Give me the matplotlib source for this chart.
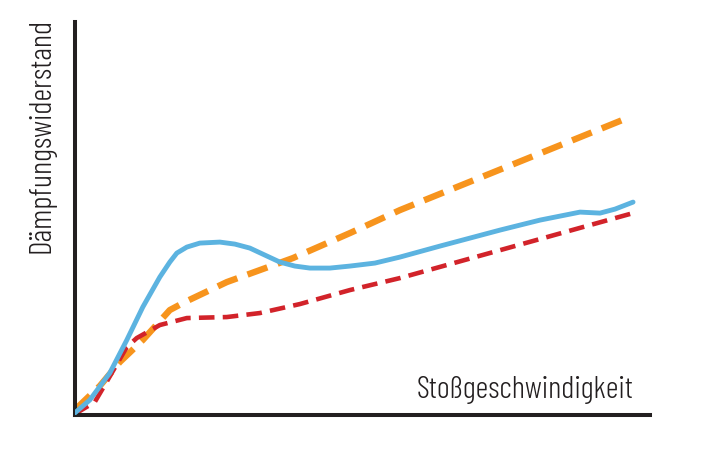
import matplotlib.pyplot as plt

# values (x: velocity, y: resistance, arbitrary units)
blue_x = [0, 15, 35, 52, 68, 85, 95, 102, 112, 125, 145, 160, 175, 190, 205, 220, 235, 255, 275, 300,
          325, 365, 425, 465, 505, 525, 540, 558]
blue_y = [2, 15, 42, 75, 108, 138, 153, 162, 168, 172, 173, 171, 167, 160, 153, 149, 147, 147, 149, 152,
          158, 169, 185, 195, 203, 202, 206, 213]

orange_x = [0, 25, 45, 68, 95, 110, 152, 218, 275, 325, 552]
orange_y = [5, 29, 53, 75, 105, 113, 133, 157, 182, 205, 297]

red_x = [0, 20, 30, 52, 62, 85, 112, 152, 185, 225, 275, 325, 558]
red_y = [1, 13, 30, 68, 77, 90, 97, 98, 102, 111, 125, 137, 202]

xlabel = "Stoßgeschwindigkeit"
ylabel = "Dämpfungswiderstand"

font = ["Barlow Condensed", "Roboto Condensed", "DejaVu Sans"]
ink = "#231f20"

fig = plt.figure(figsize=(7.12, 4.51), dpi=100)
ax = fig.add_axes([0.105, 0.0798, 0.808, 0.871])

ax.plot(blue_x, blue_y, color="#5cb3e0", lw=3.5, solid_capstyle="round", zorder=3)
ax.plot(orange_x, orange_y, color="#f7941d", lw=4.6, dashes=(3.3, 1.7), zorder=2)
ax.plot(red_x, red_y, color="#d2232a", lw=3.3, dashes=(3.4, 1.8), zorder=2)

ax.set_xlim(0, 575)
ax.set_ylim(0, 393)
for s in ["top", "right"]:
    ax.spines[s].set_visible(False)
for s in ["left", "bottom"]:
    ax.spines[s].set_linewidth(2.9)
    ax.spines[s].set_color(ink)
ax.set_xticks([])
ax.set_yticks([])

ax.text(558, 17, xlabel, ha="right", va="baseline", fontsize=22.5,
        family=font, weight=300, color=ink)
fig.text(42 / 712, 1 - 135 / 451, ylabel, rotation=90, ha="center", va="center",
         fontsize=22.5, family=font, weight=300, color=ink)

fig.savefig("out.png", dpi=100)
